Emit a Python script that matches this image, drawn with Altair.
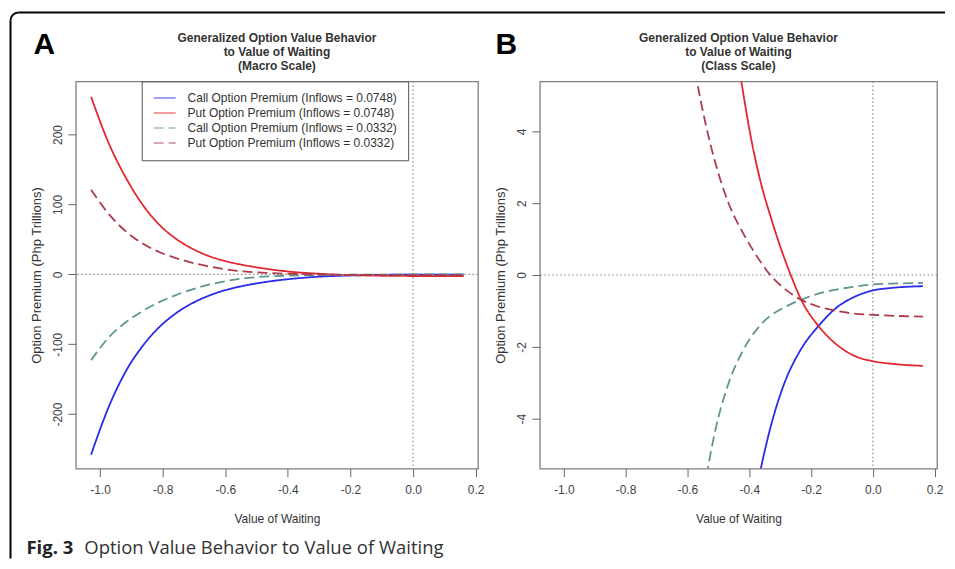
import math
import altair as alt
import pandas as pd

# ---------------- data ----------------
SERIES = [
    "Call Option Premium (Inflows = 0.0748)",
    "Put Option Premium (Inflows = 0.0748)",
    "Call Option Premium (Inflows = 0.0332)",
    "Put Option Premium (Inflows = 0.0332)",
]
COLORS = ["#2b2be8", "#e3272f", "#5f9590", "#ad3b4b"]
DASHES = [[1, 0], [1, 0], [10, 5], [10, 5]]

call_hi_x = [-1.029, -0.97, -0.917, -0.864, -0.811, -0.758, -0.705, -0.652, -0.6, -0.546,
             -0.49, -0.44, -0.40, -0.364, -0.33, -0.288, -0.235, -0.176, -0.118, -0.065,
             0.0, 0.06, 0.162]
call_hi_y = [-258, -187, -138, -102.5, -75.5, -55.8, -41.2, -30.5, -22.6, -16.8,
             -12.3, -9.0, -7.0, -5.44, -4.2, -3.05, -2.1, -1.42, -0.91, -0.63,
             -0.43, -0.36, -0.31]

put_hi_x = [-1.029, -0.97, -0.917, -0.864, -0.811, -0.758, -0.705, -0.652, -0.6, -0.546,
            -0.49, -0.455, -0.425, -0.394, -0.362, -0.33, -0.298, -0.268, -0.23, -0.176,
            -0.118, -0.065, 0.0, 0.06, 0.162]
put_hi_y = [254, 185, 137.6, 99.5, 71, 51, 36.5, 26, 19.0, 13.6,
            9.3, 7.0, 5.35, 3.8, 2.55, 1.6, 0.75, 0.05, -0.72, -1.42,
            -1.93, -2.23, -2.40, -2.47, -2.53]

call_lo_x = [-1.029, -0.97, -0.917, -0.864, -0.811, -0.758, -0.705, -0.652, -0.6, -0.565,
             -0.536, -0.51, -0.468, -0.415, -0.351, -0.277, -0.23, -0.15, -0.065, 0.0,
             0.08, 0.162]
call_lo_y = [-123, -89, -68.3, -52.5, -39.8, -29.7, -21.4, -14.8, -9.85, -7.24,
             -5.5, -4.33, -3.04, -2.02, -1.28, -0.86, -0.68, -0.46, -0.33, -0.26,
             -0.235, -0.22]

put_lo_x = [-1.029, -0.97, -0.917, -0.864, -0.811, -0.758, -0.705, -0.652, -0.61, -0.568,
            -0.542, -0.51, -0.468, -0.415, -0.362, -0.33, -0.28, -0.23, -0.18, -0.129,
            -0.065, 0.0, 0.08, 0.162]
put_lo_y = [121, 85, 61, 44.0, 32, 23.3, 16.5, 11.2, 7.9, 5.35,
            4.24, 3.13, 2.02, 1.09, 0.35, -0.02, -0.42, -0.70, -0.87, -0.98,
            -1.07, -1.11, -1.14, -1.16]

X_TICKS = [-1.0, -0.8, -0.6, -0.4, -0.2, 0.0, 0.2]
Y_TICKS_A = [-200, -100, 0, 100, 200]
Y_TICKS_B = [-4, -2, 0, 2, 4]
X_DOMAIN = [-1.0776, 0.2076]
Y_DOMAIN_A = [-278, 276]
Y_DOMAIN_B = [-5.39, 5.39]

TITLE_A = ["Generalized Option Value Behavior", "to Value of Waiting", "(Macro Scale)"]
TITLE_B = ["Generalized Option Value Behavior", "to Value of Waiting", "(Class Scale)"]
CAPTION_BOLD = "Fig. 3"
CAPTION_TEXT = "Option Value Behavior to Value of Waiting"

rows = []
for name, xs, ys in [(SERIES[0], call_hi_x, call_hi_y), (SERIES[1], put_hi_x, put_hi_y),
                     (SERIES[2], call_lo_x, call_lo_y), (SERIES[3], put_lo_x, put_lo_y)]:
    for xv, yv in zip(xs, ys):
        rows.append({"series": name, "x": xv, "y": yv})
df = pd.DataFrame(rows)
one = pd.DataFrame({"k": [0]})

WA, WB, H = 403, 398, 388
FONT = "Liberation Sans"


def x_axis():
    return alt.Axis(values=X_TICKS, title="Value of Waiting",
                    labelExpr="datum.value < 0 ? '-' + format(-datum.value, '.1f') : format(datum.value, '.1f')",
                    labelFlush=False, labelPadding=8, titlePadding=18, tickSize=8)


def y_axis(ticks):
    return alt.Axis(values=ticks, title="Option Premium (Php Trillions)",
                    labelExpr="datum.value < 0 ? '-' + format(-datum.value, 'd') : format(datum.value, 'd')",
                    labelAngle=270, labelAlign="center", labelBaseline="bottom",
                    labelFlush=False, labelPadding=3, titlePadding=8, titleFontSize=13, tickSize=8)


def panel(width, ydom, yticks, title, letter, letter_x, legend, extra):
    zero_h = alt.Chart(one).mark_rule(color="#8a8a8a", strokeDash=[1.5, 2.5], strokeWidth=1.2).encode(
        y=alt.datum(0))
    zero_v = alt.Chart(one).mark_rule(color="#8a8a8a", strokeDash=[1.5, 2.5], strokeWidth=1.2).encode(
        x=alt.datum(0))
    lines = alt.Chart(df).mark_line(strokeWidth=1.8, clip=True, interpolate="monotone").encode(
        x=alt.X("x:Q", scale=alt.Scale(domain=X_DOMAIN, nice=False, zero=False), axis=x_axis()),
        y=alt.Y("y:Q", scale=alt.Scale(domain=ydom, nice=False, zero=False), axis=y_axis(yticks)),
        color=alt.Color("series:N", scale=alt.Scale(domain=SERIES, range=COLORS), legend=legend),
        strokeDash=alt.StrokeDash("series:N", scale=alt.Scale(domain=SERIES, range=DASHES), legend=legend),
    )
    ttl = alt.Chart(one).mark_text(text=title, font=FONT, fontSize=12, fontWeight="bold", color="#333",
                                   align="center", baseline="alphabetic", lineHeight=14).encode(
        x=alt.value(width / 2), y=alt.value(-39.5))
    let = alt.Chart(one).mark_text(text=letter, font=FONT, fontSize=30, fontWeight="bold", color="#000",
                                   align="left", baseline="alphabetic").encode(
        x=alt.value(letter_x), y=alt.value(-27))
    return alt.layer(zero_h, zero_v, lines, ttl, let, *extra).properties(width=width, height=H)


legend_a = alt.Legend(title=None, orient="none", legendX=66, legendY=0, strokeColor="#555",
                      fillColor="white", padding=10.5, symbolType="stroke", symbolSize=484,
                      symbolStrokeWidth=1.5, symbolOpacity=0.6, symbolOffset=0.5, labelFont=FONT,
                      labelFontSize=12, labelColor="#333", labelLimit=400, rowPadding=2,
                      clipHeight=12.3, labelOffset=11, cornerRadius=0)

# frame (rounded top-left corner) and caption, drawn in panel A's coordinate space
R = 8
FX, FY = -65.5, -69
frame_top = alt.Chart(one).mark_rule(color="black", strokeWidth=2).encode(
    x=alt.value(FX + R), x2=alt.value(871), y=alt.value(FY))
frame_left = alt.Chart(one).mark_rule(color="black", strokeWidth=2).encode(
    x=alt.value(FX), y=alt.value(FY + R), y2=alt.value(478))
frame_corner = alt.Chart(one).mark_arc(theta=1.5 * math.pi, theta2=2 * math.pi, radius=R + 1,
                                       radius2=R - 1, color="black").encode(
    x=alt.value(FX + R), y=alt.value(FY + R))
cap1 = alt.Chart(one).mark_text(text=CAPTION_BOLD, font="Open Sans", fontSize=18.5, fontWeight="bold",
                                color="#222", align="left", baseline="alphabetic").encode(
    x=alt.value(-49.5), y=alt.value(474))
cap2 = alt.Chart(one).mark_text(text=CAPTION_TEXT, font="Open Sans", fontSize=18.5, color="#333",
                                align="left", baseline="alphabetic").encode(
    x=alt.value(8.5), y=alt.value(474))

pa = panel(WA, Y_DOMAIN_A, Y_TICKS_A, TITLE_A, "A", -42.5, legend_a,
           [frame_top, frame_left, frame_corner, cap1, cap2])
pb = panel(WB, Y_DOMAIN_B, Y_TICKS_B, TITLE_B, "B", -44.5, None, [])

chart = alt.hconcat(pa, pb, spacing=62, bounds="flush",
                    padding={"left": 0, "top": 2, "right": 0, "bottom": 0},
                    background="white").resolve_scale(
    x="independent", y="independent", color="independent", strokeDash="independent"
).resolve_legend(color="independent", strokeDash="independent").configure_view(
    stroke="#7f7f7f", strokeWidth=1.3
).configure_axis(
    labelFont=FONT, labelFontSize=12, labelColor="#444", titleFont=FONT, titleFontSize=12,
    titleFontWeight="normal", titleColor="#333", tickColor="#666", domain=False, grid=False
)

chart.save("out.html", embed_options={"renderer": "svg", "actions": False})
